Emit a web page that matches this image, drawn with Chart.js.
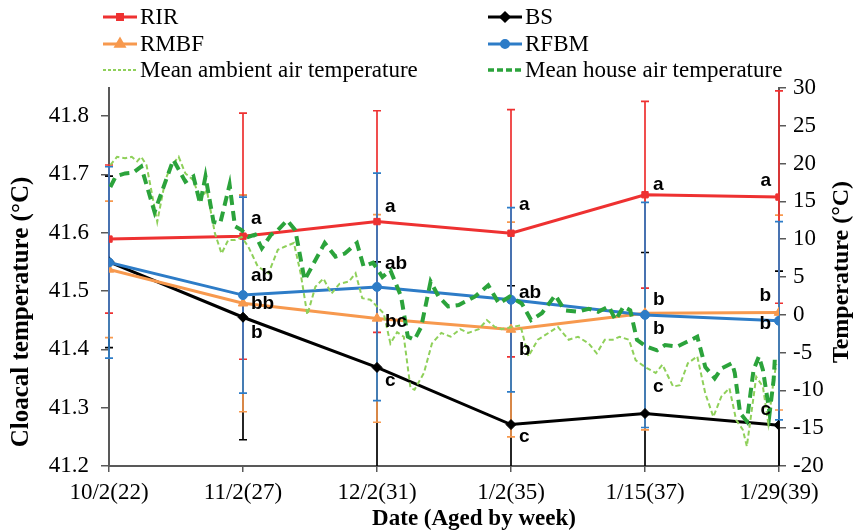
<!DOCTYPE html>
<html>
<head>
<meta charset="utf-8">
<script src="https://cdn.jsdelivr.net/npm/chart.js@4.4.1/dist/chart.umd.min.js"></script>
<style>
  html, body { margin: 0; padding: 0; background: #fff; }
  #chart { display: block; }
</style>
</head>
<body>
<canvas id="chart" width="855" height="532"></canvas>
<script>
// ---- data ----
const CATEGORIES = ['10/2(22)', '11/2(27)', '12/2(31)', '1/2(35)', '1/15(37)', '1/29(39)'];

// cloacal temperature (left axis), means and SD
const RIR = [41.589, 41.594, 41.619, 41.599, 41.665, 41.661];
const RIR_SD = [0.127, 0.211, 0.190, 0.212, 0.160, 0.182];
const BS = [41.550, 41.455, 41.369, 41.271, 41.290, 41.270];
const BS_SD = [0.147, 0.210, 0.181, 0.238, 0.276, 0.264];
const RMBF = [41.537, 41.479, 41.453, 41.434, 41.462, 41.463];
const RMBF_SD = [0.117, 0.186, 0.178, 0.184, 0.200, 0.167];
const RFBM = [41.549, 41.493, 41.507, 41.485, 41.459, 41.449];
const RFBM_SD = [0.164, 0.168, 0.195, 0.158, 0.193, 0.170];

// significance letters
const RIR_SIG = ['', 'a', 'a', 'a', 'a', 'a'];
const BS_SIG = ['', 'b', 'c', 'c', 'c', 'c'];
const RMBF_SIG = ['', 'bb', 'bc', 'b', 'b', 'b'];
const RFBM_SIG = ['', 'ab', 'ab', 'ab', 'b', 'b'];

// daily air temperatures (right axis), position along the week axis
const HOUSE_POS = [0.01, 0.05, 0.12, 0.18, 0.24, 0.34, 0.48, 0.57, 0.63, 0.68, 0.72, 0.78, 0.83, 0.90, 0.94,
  0.99, 1.04, 1.09, 1.14, 1.21, 1.26, 1.33, 1.39, 1.46, 1.61, 1.69, 1.76, 1.85, 1.90, 1.97, 2.04, 2.10,
  2.18, 2.23, 2.28, 2.33, 2.40, 2.46, 2.53, 2.61, 2.73, 2.83, 2.91, 2.99, 3.08, 3.15, 3.23, 3.33, 3.40,
  3.50, 3.58, 3.65, 3.73, 3.78, 3.84, 3.89, 3.94, 4.01, 4.09, 4.15, 4.24, 4.31, 4.39, 4.45, 4.52, 4.57,
  4.65, 4.67, 4.71, 4.76, 4.81, 4.85, 4.88, 4.93, 4.96, 4.97];
const HOUSE_TEMP = [16.9, 18.3, 18.7, 18.8, 19.6, 13.6, 20.5, 17.6, 18.3, 14.7, 18.3, 12.3, 12.1, 17.2, 11.7,
  11.2, 10.3, 10.6, 8.8, 10.6, 11.2, 12.5, 11.2, 4.6, 9.5, 7.7, 8.1, 9.5, 6.4, 6.9, 5.0, 5.9,
  2.4, -2.9, -3.3, -1.6, 4.4, 2.4, 1.1, 1.3, 2.4, 3.9, 1.5, 2.4, 1.5, -0.7, 0.2, 2.6, 0.6,
  0.4, 0.8, 0.4, 1.1, -0.7, 1.1, 0.6, -3.3, -4.2, -4.7, -4.0, -4.2, -3.6, -2.9, -6.9, -8.4, -7.1,
  -6.4, -7.7, -13.0, -14.1, -7.3, -5.5, -7.3, -13.0, -8.6, -5.5];
const AMBIENT_POS = [0.01, 0.06, 0.12, 0.17, 0.21, 0.24, 0.28, 0.36, 0.42, 0.46, 0.52, 0.57, 0.63, 0.68, 0.73,
  0.79, 0.84, 0.89, 0.94, 0.99, 1.04, 1.11, 1.19, 1.26, 1.31, 1.38, 1.43, 1.48, 1.54, 1.60, 1.66, 1.72,
  1.79, 1.84, 1.89, 1.95, 2.00, 2.05, 2.10, 2.15, 2.20, 2.25, 2.28, 2.35, 2.41, 2.48, 2.55, 2.62, 2.68,
  2.76, 2.82, 2.88, 2.93, 3.01, 3.07, 3.13, 3.20, 3.28, 3.35, 3.43, 3.50, 3.58, 3.64, 3.70, 3.76, 3.81,
  3.88, 3.93, 4.00, 4.08, 4.13, 4.21, 4.26, 4.32, 4.39, 4.45, 4.51, 4.57, 4.63, 4.68, 4.73, 4.76, 4.80,
  4.83, 4.88, 4.92, 4.96, 4.98];
const AMBIENT_TEMP = [19.8, 20.9, 20.7, 20.9, 20.3, 20.9, 19.8, 12.3, 17.8, 19.6, 20.9, 18.7, 17.8, 15.2, 16.5,
  10.8, 8.1, 9.9, 9.9, 10.3, 9.0, 6.4, 5.5, 8.6, 9.0, 9.5, 5.5, 0.0, 3.7, 4.8, 2.8, 4.1,
  4.4, 5.5, 2.2, 2.0, 1.1, 0.2, -3.8, -2.3, -2.9, -9.7, -9.9, -7.7, -3.8, -2.4, -2.9, -1.9, -2.4,
  -1.9, -0.7, -1.6, -1.9, -1.6, -1.4, -5.5, -3.3, -2.4, -1.6, -3.3, -2.9, -3.8, -5.1, -3.3, -3.3, -2.9,
  -3.3, -6.0, -6.9, -7.7, -6.6, -9.5, -9.3, -6.4, -5.5, -10.4, -13.5, -10.8, -9.7, -13.9, -15.2, -17.4, -12.2,
  -8.2, -9.5, -14.4, -8.6, -6.5];

// ---- styling ----
const SERIF = '"Liberation Serif", "Times New Roman", serif';
const SANS = '"Liberation Sans", Arial, sans-serif';
const AXIS_COLOR = '#595959';

const COLORS = {
  RIR: '#EE3131',
  BS: '#000000',
  RMBF: '#F7994E',
  RFBM: '#2D7CC7',
  house: '#2BA33B',
  ambient: '#8FD05A'
};

// label offsets (px) from each point: dy per category; last column placed left of the point
const LABEL_DY = {
  RIR: [0, -17, -15, -28, -10, -16],
  BS: [0, 16, 13, 12, -27, -15],
  RMBF: [0, 1, 3, 20, -13, -17],
  RFBM: [0, -19, -23, -7, 14, 3]
};

const breeds = [
  { key: 'RIR', values: RIR, sd: RIR_SD, sig: RIR_SIG, style: 'rect', radius: 4.5, order: 3 },
  { key: 'BS', values: BS, sd: BS_SD, sig: BS_SIG, style: 'rectRot', radius: 5, order: 5 },
  { key: 'RMBF', values: RMBF, sd: RMBF_SD, sig: RMBF_SIG, style: 'triangle', radius: 5.5, order: 4 },
  { key: 'RFBM', values: RFBM, sd: RFBM_SD, sig: RFBM_SIG, style: 'circle', radius: 4.5, order: 2 }
];

// error bars drawn back-to-front in this order (blue ends up on top)
const ERROR_ORDER = ['BS', 'RMBF', 'RIR', 'RFBM'];

const errorBarPlugin = {
  id: 'errorBars',
  beforeDatasetsDraw(chart) {
    const { ctx, chartArea } = chart;
    const x = chart.scales.x, y = chart.scales.y;
    ctx.save();
    ctx.beginPath();
    ctx.rect(0, 0, chart.width, chartArea.bottom);
    ctx.clip();
    ERROR_ORDER.forEach(k => {
      const b = breeds.find(s => s.key === k);
      ctx.strokeStyle = COLORS[k];
      ctx.lineWidth = 1.7;
      b.values.forEach((v, i) => {
        const px = x.getPixelForValue(i);
        const top = y.getPixelForValue(v + b.sd[i]);
        const bot = y.getPixelForValue(v - b.sd[i]);
        ctx.beginPath();
        ctx.moveTo(px, top); ctx.lineTo(px, bot);
        ctx.moveTo(px - 4, top); ctx.lineTo(px + 4, top);
        ctx.moveTo(px - 4, bot); ctx.lineTo(px + 4, bot);
        ctx.stroke();
      });
    });
    ctx.restore();
  }
};

const lettersPlugin = {
  id: 'letters',
  afterDatasetsDraw(chart) {
    const { ctx } = chart;
    const x = chart.scales.x, y = chart.scales.y;
    ctx.save();
    ctx.font = 'bold 19px ' + SANS;
    ctx.fillStyle = '#000';
    ctx.textBaseline = 'middle';
    breeds.forEach(b => {
      b.sig.forEach((txt, i) => {
        if (!txt) return;
        const last = i === CATEGORIES.length - 1;
        ctx.textAlign = last ? 'right' : 'left';
        const px = x.getPixelForValue(i) + (last ? -8 : 8);
        const py = y.getPixelForValue(b.values[i]) + LABEL_DY[b.key][i];
        ctx.fillText(txt, px, py);
      });
    });
    ctx.restore();
  }
};

const legendItems = [
  { text: 'RIR', color: COLORS.RIR, style: 'rect', radius: 3.5, width: 3, col: 0, row: 0 },
  { text: 'BS', color: COLORS.BS, style: 'rectRot', radius: 4, width: 3, col: 1, row: 0 },
  { text: 'RMBF', color: COLORS.RMBF, style: 'triangle', radius: 4.5, width: 3, col: 0, row: 1 },
  { text: 'RFBM', color: COLORS.RFBM, style: 'circle', radius: 3.5, width: 3, col: 1, row: 1 },
  { text: 'Mean ambient air temperature', color: COLORS.ambient, dash: [3, 2], width: 2, col: 0, row: 2 },
  { text: 'Mean house air temperature', color: COLORS.house, dash: [6, 3], width: 3.5, col: 1, row: 2 }
];

const legendPlugin = {
  id: 'customLegend',
  afterDraw(chart) {
    const { ctx } = chart;
    const colX = [103, 488];
    const rowY = [17, 44, 70];
    ctx.save();
    legendItems.forEach(it => {
      const x0 = colX[it.col], yy = rowY[it.row];
      ctx.strokeStyle = it.color;
      ctx.lineWidth = it.width;
      ctx.setLineDash(it.dash || []);
      ctx.beginPath();
      ctx.moveTo(x0, yy); ctx.lineTo(x0 + 34, yy);
      ctx.stroke();
      ctx.setLineDash([]);
      if (it.style) {
        ctx.fillStyle = it.color;
        Chart.helpers.drawPoint(ctx, { pointStyle: it.style, radius: it.radius, rotation: 0, borderWidth: 1 }, x0 + 17, yy);
      }
      ctx.fillStyle = '#000';
      ctx.font = '23px ' + SERIF;
      ctx.textBaseline = 'middle';
      ctx.textAlign = 'left';
      ctx.fillText(it.text, x0 + 37, yy + 1);
    });
    ctx.restore();
  }
};

// axis titles, placed where the original figure has them
const axisTitlePlugin = {
  id: 'axisTitles',
  afterDraw(chart) {
    const { ctx } = chart;
    ctx.save();
    ctx.fillStyle = '#000';
    ctx.textAlign = 'center';
    ctx.textBaseline = 'middle';
    ctx.font = 'bold 23px ' + SERIF;
    ctx.fillText('Date (Aged by week)', 474, 519);
    [['Cloacal temperature (°C)', 22, 312, 25], ['Temperature (°C)', 842, 272, 24]].forEach(([t, cx, cy, fs]) => {
      ctx.save();
      ctx.font = 'bold ' + fs + 'px ' + SERIF;
      ctx.translate(cx, cy);
      ctx.rotate(-Math.PI / 2);
      ctx.fillText(t, 0, 0);
      ctx.restore();
    });
    ctx.restore();
  }
};

const breedDatasets = breeds.map(b => ({
  label: b.key,
  data: b.values.map((v, i) => ({ x: i, y: v })),
  yAxisID: 'y',
  borderColor: COLORS[b.key],
  backgroundColor: COLORS[b.key],
  borderWidth: 3,
  pointStyle: b.style,
  pointRadius: b.radius,
  pointBorderWidth: 1,
  tension: 0,
  order: b.order
}));

const tempDatasets = [
  {
    label: 'Mean house air temperature',
    data: HOUSE_POS.map((p, i) => ({ x: p, y: HOUSE_TEMP[i] })),
    yAxisID: 'y2',
    borderColor: COLORS.house,
    borderWidth: 4,
    borderDash: [10, 6],
    pointRadius: 0,
    tension: 0,
    order: 0
  },
  {
    label: 'Mean ambient air temperature',
    data: AMBIENT_POS.map((p, i) => ({ x: p, y: AMBIENT_TEMP[i] })),
    yAxisID: 'y2',
    borderColor: COLORS.ambient,
    borderWidth: 2,
    borderDash: [5, 3],
    pointRadius: 0,
    tension: 0,
    order: 1
  }
];

const tickFont = { family: SERIF, size: 23 };

new Chart(document.getElementById('chart'), {
  type: 'line',
  data: { datasets: [...tempDatasets, ...breedDatasets] },
  options: {
    responsive: false,
    animation: false,
    devicePixelRatio: 1,
    layout: { padding: { top: 88, left: 0, right: 0, bottom: 0 } },
    plugins: { legend: { display: false }, tooltip: { enabled: false } },
    scales: {
      x: {
        type: 'linear',
        min: 0,
        max: 5,
        ticks: {
          stepSize: 1,
          color: '#000',
          font: tickFont,
          padding: 7,
          maxRotation: 0,
          callback: v => CATEGORIES[v] || ''
        },
        grid: { drawOnChartArea: false, tickLength: 6, color: AXIS_COLOR, lineWidth: 1.5 },
        border: { color: AXIS_COLOR, width: 2 },
        afterFit: s => { s.height = 66; }
      },
      y: {
        position: 'left',
        min: 41.2,
        max: 41.848,
        ticks: {
          stepSize: 0.1,
          color: '#000',
          font: tickFont,
          padding: 12,
          callback: v => v.toFixed(1)
        },
        afterBuildTicks: s => {
          s.ticks = s.ticks.filter(t => Math.abs(t.value * 10 - Math.round(t.value * 10)) < 1e-6);
        },
        grid: { drawOnChartArea: false, tickLength: 8, color: AXIS_COLOR, lineWidth: 1.5 },
        border: { color: AXIS_COLOR, width: 2 },
        afterFit: s => { s.width = 109; }
      },
      y2: {
        position: 'right',
        min: -20,
        max: 30,
        ticks: { stepSize: 5, color: '#000', font: tickFont, padding: 7 },
        grid: { drawOnChartArea: false, tickLength: 7, color: AXIS_COLOR, lineWidth: 1.5 },
        border: { color: AXIS_COLOR, width: 2 },
        afterFit: s => { s.width = 76; }
      }
    }
  },
  plugins: [errorBarPlugin, lettersPlugin, legendPlugin, axisTitlePlugin]
});
</script>
</body>
</html>
